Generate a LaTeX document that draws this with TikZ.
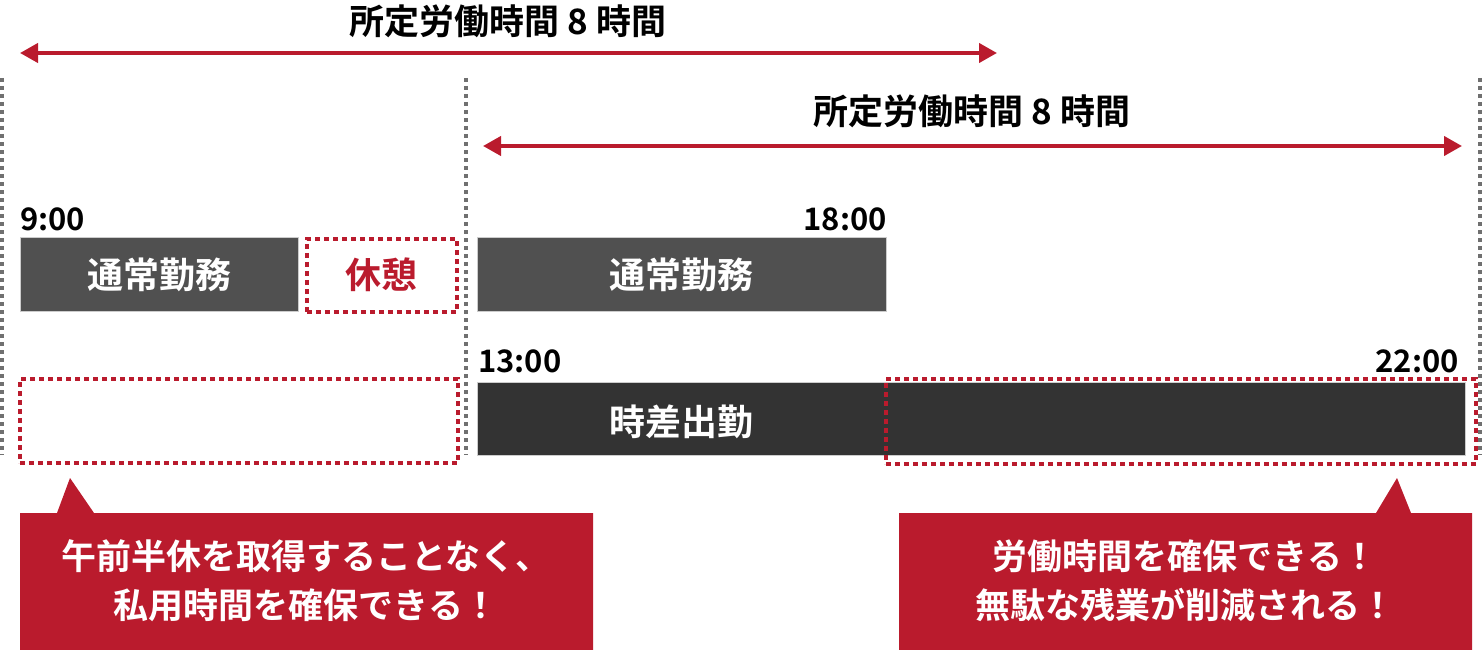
\documentclass[tikz,border=0pt]{standalone}
\usepackage{fontspec}
\setmainfont{Noto Sans CJK JP}[BoldFont={* Bold}]
\usetikzlibrary{arrows.meta}
\definecolor{cred}{HTML}{BA1B2D}
\definecolor{cgray}{HTML}{505050}
\definecolor{cdark}{HTML}{333333}
\definecolor{cline}{HTML}{707070}
\tikzset{
  span/.style={draw=cred, line width=4pt, {Triangle[length=18pt,width=19pt]}-{Triangle[length=18pt,width=19pt]}},
  guide/.style={draw=cline, line width=4pt, dash pattern=on 4pt off 4pt},
  workbox/.style={draw=black!20, line width=0.8pt, minimum height=74pt, inner sep=0pt, anchor=north west, text=white, font=\bfseries\fontsize{36}{40}\selectfont},
  redbox/.style={draw=cred, line width=3.5pt, dash pattern=on 5pt off 4pt, inner sep=0pt, anchor=north west},
  title/.style={font=\bfseries\fontsize{35}{40}\selectfont, text=black},
  tlabel/.style={font=\bfseries\fontsize{31}{35}\selectfont, text=black, inner sep=0pt},
  calltext/.style={font=\bfseries\fontsize{35}{49}\selectfont, text=white, align=center},
}
\begin{document}
\begin{tikzpicture}[x=1pt,y=-1pt]
\useasboundingbox (0,0) rectangle (1482,650);
% guides
\coordinate (g1a) at (2,78);  \coordinate (g1b) at (2,455);
\coordinate (g2a) at (466,78); \coordinate (g2b) at (466,455);
\coordinate (g3a) at (1480,78); \coordinate (g3b) at (1480,455);
\draw[guide] (g1a) -- (g1b);
\draw[guide] (g2a) -- (g2b);
\draw[guide] (g3a) -- (g3b);
% titles and spans
\node[title] (t1) at (508,21) {所定労働時間 8 時間};
\coordinate (a1l) at (20,53); \coordinate (a1r) at (997,53);
\draw[span] (a1l) -- (a1r);
\node[title] (t2) at (972,111) {所定労働時間 8 時間};
\coordinate (a2l) at (483,146); \coordinate (a2r) at (1462,146);
\draw[span] (a2l) -- (a2r);
% row 1
\node[tlabel, anchor=base west] (h9) at (20,230) {9:00};
\node[workbox, fill=cgray, minimum width=278pt] (w1) at (20,237) {通常勤務};
\node[redbox, minimum width=150pt, minimum height=73pt, text=cred, font=\bfseries\fontsize{36}{40}\selectfont] (rest) at (305,237) {休憩};
\node[workbox, fill=cgray, minimum width=409pt] (w2) at (477,237) {通常勤務};
\node[tlabel, anchor=base east] (h18) at (887,230) {18:00};
% row 2
\node[redbox, minimum width=438pt, minimum height=84pt] (free) at (18,377) {};
\node[tlabel, anchor=base west] (h13) at (478,372) {13:00};
\node[tlabel, anchor=base east] (h22) at (1459,372) {22:00};
\node[workbox, fill=cdark, minimum width=988pt, minimum height=73pt] (w3) at (477,382) {};
\node[text=white, font=\bfseries\fontsize{36}{40}\selectfont] (w3t) at (681,422) {時差出勤};
\node[redbox, minimum width=590pt, minimum height=85pt] (over) at (884,377) {};
% callouts
\fill[cred] (20,513) -- (57,513) -- (70,478) -- (94,513) -- (593,513) -- (593,650) -- (20,650) -- cycle;
\node[calltext] (c1) at (306,581) {午前半休を取得することなく、\\私用時間を確保できる！};
\fill[cred] (899,513) -- (1376,513) -- (1397,478) -- (1411,513) -- (1472,513) -- (1472,650) -- (899,650) -- cycle;
\node[calltext] (c2) at (1185,581) {労働時間を確保できる！\\無駄な残業が削減される！};
\end{tikzpicture}
\end{document}
